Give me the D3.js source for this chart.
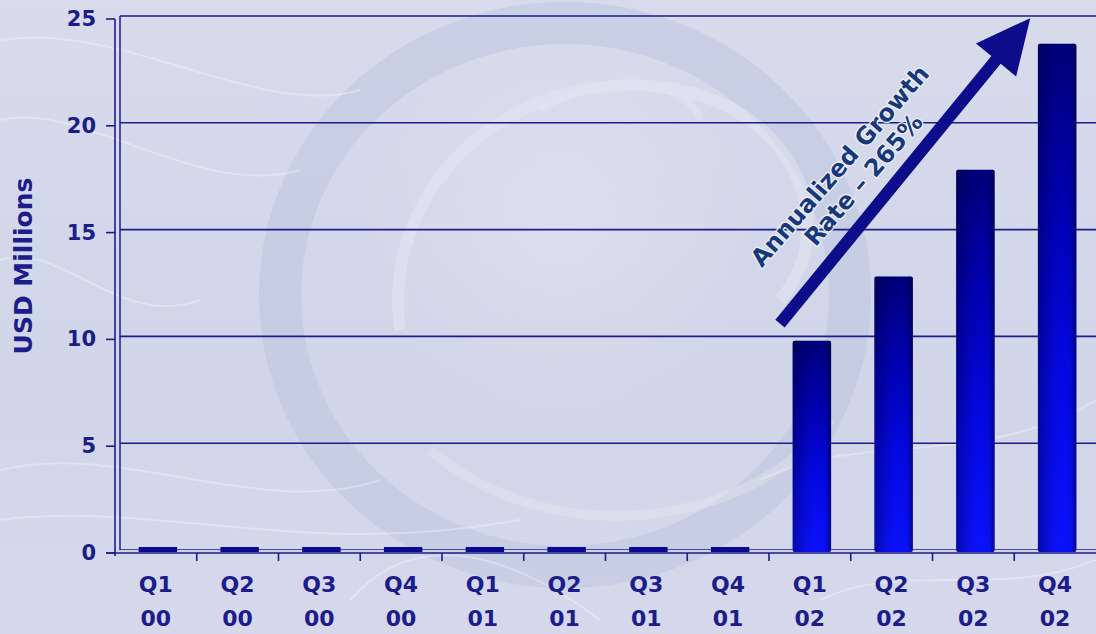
<!DOCTYPE html>
<html>
<head>
<meta charset="utf-8">
<script src="https://cdn.jsdelivr.net/npm/d3@7"></script>
<style>
  html, body { margin: 0; padding: 0; background: #d3d8ea; }
  svg { display: block; }
</style>
</head>
<body>
<svg id="chart" width="1096" height="634"></svg>
<script>
const quarters = ["Q1","Q2","Q3","Q4","Q1","Q2","Q3","Q4","Q1","Q2","Q3","Q4"];
const years    = ["00","00","00","00","01","01","01","01","02","02","02","02"];
const values   = [0, 0, 0, 0, 0, 0, 0, 0, 9.8, 12.8, 17.8, 23.7];
const yTicks   = [0, 5, 10, 15, 20, 25];
const yTitle   = "USD Millions";
const noteLines = ["Annualized Growth", "Rate \u2013 265%"];

const W = 1096, H = 634;
const svg = d3.select("#chart");
const navy = "#1c1c8a";
const font = "'DejaVu Sans', Verdana, sans-serif";

const defs = svg.append("defs");
// background
const bg = defs.append("linearGradient").attr("id", "bg").attr("x1", 0).attr("y1", 0).attr("x2", 0).attr("y2", 1);
bg.append("stop").attr("offset", "0%").attr("stop-color", "#d7dbec");
bg.append("stop").attr("offset", "60%").attr("stop-color", "#d0d5e8");
bg.append("stop").attr("offset", "100%").attr("stop-color", "#d5d9eb");
const rg = defs.append("radialGradient").attr("id", "glow").attr("cx", "50%").attr("cy", "45%").attr("r", "50%");
rg.append("stop").attr("offset", "0%").attr("stop-color", "#ffffff").attr("stop-opacity", 0.18);
rg.append("stop").attr("offset", "100%").attr("stop-color", "#ffffff").attr("stop-opacity", 0);

// bar gradients
const gv = defs.append("linearGradient").attr("id", "barV").attr("x1", 0).attr("y1", 0).attr("x2", 0).attr("y2", 1);
gv.append("stop").attr("offset", "0%").attr("stop-color", "#00007a");
gv.append("stop").attr("offset", "30%").attr("stop-color", "#0000b0");
gv.append("stop").attr("offset", "65%").attr("stop-color", "#0408e4");
gv.append("stop").attr("offset", "100%").attr("stop-color", "#0a12ff");
const gh = defs.append("linearGradient").attr("id", "barH").attr("x1", 0).attr("y1", 0).attr("x2", 1).attr("y2", 0);
gh.append("stop").attr("offset", "0%").attr("stop-color", "#000030").attr("stop-opacity", 0.4);
gh.append("stop").attr("offset", "35%").attr("stop-color", "#000030").attr("stop-opacity", 0.1);
gh.append("stop").attr("offset", "60%").attr("stop-color", "#000030").attr("stop-opacity", 0);
gh.append("stop").attr("offset", "85%").attr("stop-color", "#000030").attr("stop-opacity", 0.05);
gh.append("stop").attr("offset", "100%").attr("stop-color", "#000030").attr("stop-opacity", 0.55);

svg.append("rect").attr("width", W).attr("height", H).attr("fill", "url(#bg)");

// decorative swirl background
const deco = svg.append("g").attr("fill", "none");
deco.append("ellipse").attr("cx", 565).attr("cy", 295).attr("rx", 285).attr("ry", 272)
  .attr("stroke", "#bcc3dc").attr("stroke-width", 42).attr("opacity", 0.5);
deco.append("ellipse").attr("cx", 560).attr("cy", 250).attr("rx", 205).attr("ry", 195)
  .attr("fill", "url(#glow)");
deco.append("path").attr("d", "M400,330 C380,180 520,60 680,90 C800,115 840,230 780,300")
  .attr("stroke", "#e2e6f2").attr("stroke-width", 12).attr("opacity", 0.55);
deco.append("path").attr("d", "M430,450 C560,560 760,520 830,420")
  .attr("stroke", "#e2e6f2").attr("stroke-width", 10).attr("opacity", 0.45);
deco.append("path").attr("d", "M540,110 C600,70 690,80 700,120")
  .attr("stroke", "#e2e6f2").attr("stroke-width", 8).attr("opacity", 0.5);
const wisps = [
  "M0,40 C120,20 260,120 360,90",
  "M0,120 C80,100 200,200 300,170",
  "M0,260 C60,240 120,330 200,300",
  "M0,470 C120,440 260,520 380,480",
  "M0,520 C160,500 300,560 520,520",
  "M760,480 C860,430 980,470 1096,400",
  "M820,600 C900,560 1000,600 1096,560",
  "M350,600 C420,520 520,560 600,620"
];
deco.selectAll("path.w").data(wisps).join("path").attr("class", "w").attr("d", d => d)
  .attr("stroke", "#ffffff").attr("stroke-width", 2).attr("opacity", 0.3);

// scales
const x = d3.scaleBand().domain(d3.range(values.length)).range([115, 1096]).padding(0);
const y = d3.scaleLinear().domain([0, 25]).range([550, 16]);
const dx = 5, dy = 3; // 3D offset between back wall and front axis

// gridlines (back wall)
svg.append("g").selectAll("line").data(yTicks).join("line")
  .attr("x1", 115 + dx).attr("x2", W)
  .attr("y1", d => y(d)).attr("y2", d => y(d))
  .attr("stroke", navy).attr("stroke-width", 1.6);
// wall left edge
svg.append("line").attr("x1", 115 + dx).attr("x2", 115 + dx).attr("y1", y(25)).attr("y2", y(0))
  .attr("stroke", navy).attr("stroke-width", 1.5);
// floor front strip
svg.append("rect").attr("x", 115).attr("y", y(0)).attr("width", W - 115).attr("height", dy)
  .attr("fill", "#cfd2de");

// bars
const bw = x.bandwidth() * 0.47;
const barG = svg.append("g");
values.forEach((v, i) => {
  const bx = x(i) + (x.bandwidth() - bw) / 2 + 2;
  const top = Math.min(y(v), y(0) - 3);
  const h = y(0) + 2 - top;
  barG.append("rect").attr("x", bx).attr("y", top).attr("width", bw).attr("height", h)
    .attr("rx", v > 0 ? 2 : 0).attr("fill", v > 0 ? "url(#barV)" : "#0a0a90");
  if (v > 0) {
    barG.append("rect").attr("x", bx).attr("y", top).attr("width", bw).attr("height", h)
      .attr("rx", 2).attr("fill", "url(#barH)");
  }
});

// front axes
const axG = svg.append("g").attr("stroke", navy).attr("stroke-width", 1.6);
axG.append("line").attr("x1", 115).attr("x2", 115).attr("y1", y(25) + dy).attr("y2", y(0) + dy + 3);
axG.append("line").attr("x1", 106).attr("x2", W).attr("y1", y(0) + dy).attr("y2", y(0) + dy);
axG.selectAll("line.yt").data(yTicks).join("line").attr("class", "yt")
  .attr("x1", 106).attr("x2", 115).attr("y1", d => y(d) + dy).attr("y2", d => y(d) + dy);
axG.selectAll("line.xt").data(d3.range(1, values.length)).join("line").attr("class", "xt")
  .attr("x1", d => x(d)).attr("x2", d => x(d))
  .attr("y1", y(0) + dy).attr("y2", y(0) + dy + 8);

// y tick labels
svg.append("g").selectAll("text").data(yTicks).join("text")
  .attr("x", 96).attr("y", d => y(d) + dy)
  .attr("text-anchor", "end").attr("dominant-baseline", "central")
  .attr("font-family", font).attr("font-weight", "bold").attr("font-size", 21)
  .attr("fill", navy).text(d => d);

// x tick labels
const xl = svg.append("g").attr("font-family", font).attr("font-weight", "bold")
  .attr("font-size", 22).attr("fill", navy).attr("text-anchor", "middle");
xl.selectAll("text.q").data(quarters).join("text").attr("class", "q")
  .attr("x", (d, i) => x(i) + x.bandwidth() / 2).attr("y", 592).text(d => d);
xl.selectAll("text.yr").data(years).join("text").attr("class", "yr")
  .attr("x", (d, i) => x(i) + x.bandwidth() / 2).attr("y", 626).text(d => d);

// y title
svg.append("text")
  .attr("transform", `translate(32,266) rotate(-90)`)
  .attr("text-anchor", "middle")
  .attr("font-family", font).attr("font-weight", "bold").attr("font-size", 25)
  .attr("fill", navy).text(yTitle);

// growth arrow (annotation anchored to the scales)
const ax0 = x(8) + 11, ay0 = y(10.6);
const ax1 = x(11) + 16, ay1 = y(24.9);
const ang = Math.atan2(ay1 - ay0, ax1 - ax0);
const len = Math.hypot(ax1 - ax0, ay1 - ay0);
const arrow = svg.append("g").attr("transform", `translate(${ax0},${ay0}) rotate(${ang * 180 / Math.PI})`);
const headL = 54, headW = 26, shaftW = 6;
arrow.append("path")
  .attr("d", d3.line()([[0, -shaftW], [len - headL, -shaftW], [len - headL, -headW], [len, 0],
                         [len - headL, headW], [len - headL, shaftW], [0, shaftW]]) + "Z")
  .attr("fill", "#0d0d8c");

// annotation text
const note = svg.append("g")
  .attr("transform", `translate(840,166) rotate(-49)`)
  .attr("font-family", font).attr("font-weight", "bold").attr("font-size", 24)
  .attr("text-anchor", "middle").attr("fill", "#17387a")
  .attr("stroke", "#eef0f8").attr("stroke-width", 2.5).attr("paint-order", "stroke")
  .attr("stroke-linejoin", "round");
note.selectAll("text").data(noteLines).join("text")
  .attr("x", (d, i) => i * 5).attr("y", (d, i) => i * 27).attr("dominant-baseline", "central")
  .text(d => d);
</script>
</body>
</html>
